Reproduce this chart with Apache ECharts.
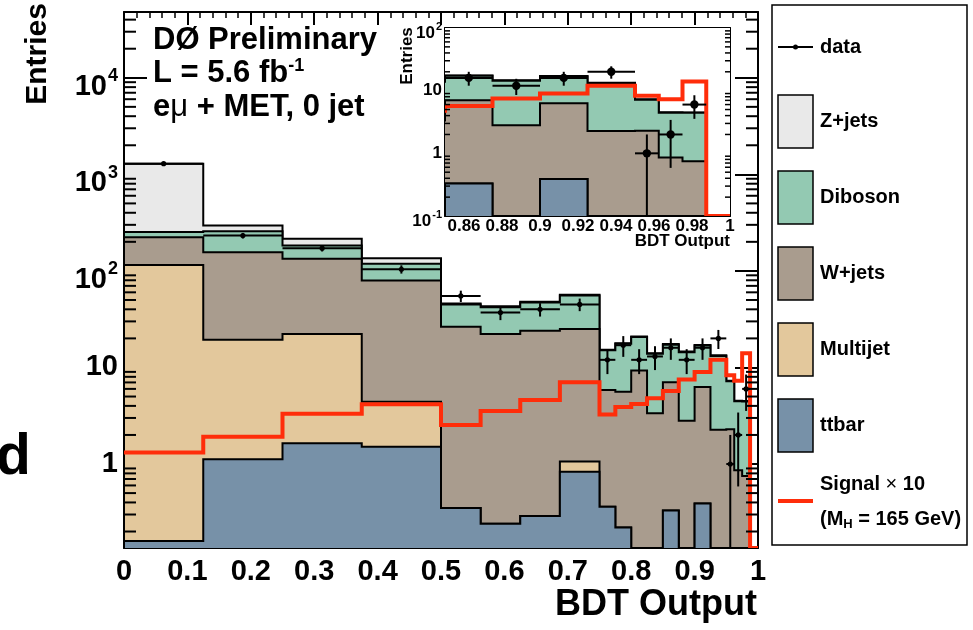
<!DOCTYPE html>
<html>
<head>
<meta charset="utf-8">
<script src="https://cdn.jsdelivr.net/npm/echarts@6/dist/echarts.min.js"></script>
<style>
  html, body { margin: 0; padding: 0; background: #fff; }
  #chart { width: 973px; height: 630px; }
</style>
</head>
<body>
<div id="chart"></div>
<script>
// Variable-width bins of the BDT output
const binEdges = [0, 0.125, 0.25, 0.375, 0.5, 0.5625, 0.625, 0.6875, 0.75,
  0.775, 0.8, 0.825, 0.85, 0.875, 0.9, 0.925, 0.95, 0.9625, 0.975, 0.9875, 1.0];

// Expected events per bin for each background process
const ttbar    = [0.16, 1.12, 1.64, 1.51, 0.35, 0.24, 0.29, 0.83, 0.36, 0.22, 0, 0, 0.33, 0, 0.39, 0, 0, 0, 0, 0];
const multijet = [115, 18.2, 20.6, 2.9, 0, 0, 0, 0.23, 0, 0, 0, 0, 0, 0, 0, 0, 0, 0, 0, 0];
const wjets    = [108, 137, 111, 75, 26, 22, 23.7, 24, 5.5, 5.4, 9.3, 3.35, 6.7, 2.8, 5.9, 2.27, 2.29, 0.86, 0.75, 0];
const diboson  = [29, 101, 50, 39, 18.6, 19.8, 23, 30.5, 9.2, 12, 11.4, 10.5, 10.2, 11.6, 10.6, 10.9, 4.9, 3.6, 3.7, 0];
const zjets    = [1033, 38, 32, 17, 1, 1, 1, 0.9, 0.2, 0.2, 0.2, 0.2, 0.3, 0.2, 0.2, 0.2, 0.1, 0.05, 0.05, 0];

// Higgs signal (M_H = 165 GeV) scaled by 10
const signalX10 = [1.32, 1.92, 3.32, 4.16, 2.54, 3.54, 4.6, 7.03, 3.25, 3.9, 4.19, 4.8, 5.7, 7.5, 9.0, 12.0, 8.3, 7.3, 14.0, 0];

// Observed events per bin
const dataCounts = [1290, 232, 172, 104, 55, 37, 40, 45, 12, 17, 12, 13, 16, 12, 16, 20, 1, 2, 6, 0];

// Tick labels
const mainXTickLabels  = ['0', '0.1', '0.2', '0.3', '0.4', '0.5', '0.6', '0.7', '0.8', '0.9', '1'];
const mainYTickLabels  = ['1', '10', '10^2', '10^3', '10^4'];
const insetXTickLabels = ['0.86', '0.88', '0.9', '0.92', '0.94', '0.96', '0.98', '1'];
const insetYTickLabels = ['10^-1', '1', '10', '10^2'];

const FONT = "'Liberation Sans', Arial, Helvetica, sans-serif";
const COL = {
  zjets: '#e9e9e9', diboson: '#93c9b2', wjets: '#a99c8e',
  multijet: '#e3c89c', ttbar: '#7791a8', signal: '#ff2d0a'
};

// Axis ranges
const MAIN_YMIN = 0.135, MAIN_YMAX = 48000;
const INSET_XMIN = 0.85, INSET_YMIN = 0.1, INSET_YMAX = 100;

// Cumulative stack: ttbar at the bottom, Z+jets on top
function addArrays(a, b) { return a.map((v, i) => v + b[i]); }
const cumTtbar = ttbar.slice();
const cumMultijet = addArrays(cumTtbar, multijet);
const cumWjets = addArrays(cumMultijet, wjets);
const cumDiboson = addArrays(cumWjets, diboson);
const cumZjets = addArrays(cumDiboson, zjets);

// '10^2' -> 100, '0.86' -> 0.86
function labelValue(l) {
  const p = l.split('^');
  return p.length > 1 ? Math.pow(Number(p[0]), Number(p[1])) : Number(l);
}
// '10^2' -> base + raised exponent
function toRich(l) {
  const p = l.split('^');
  return p.length > 1 ? '{b|' + p[0] + '}{s|' + p[1] + '}' : l;
}
function labelLookup(list, asLog) {
  return function (v) {
    for (const l of list) {
      const num = labelValue(l);
      const hit = asLog ? Math.abs(Math.log10(v) - Math.log10(num)) < 1e-6 : Math.abs(v - num) < 1e-6;
      if (hit) return toRich(l);
    }
    return '';
  };
}

// Step histogram (filled + outlined) built from bin edges and values
function histSeries(name, values, fill, xi, yi, yMin, anchor, lw) {
  return {
    type: 'custom', name: name, xAxisIndex: xi, yAxisIndex: yi, clip: true, z: 2,
    silent: true,
    data: [anchor],
    renderItem: function (params, api) {
      const X = e => api.coord([e, yMin])[0];
      const Y = v => api.coord([anchor[0], Math.max(v, yMin)])[1];
      const pts = [[X(binEdges[0]), Y(yMin)]];
      for (let i = 0; i < values.length; i++) {
        pts.push([X(binEdges[i]), Y(values[i])]);
        pts.push([X(binEdges[i + 1]), Y(values[i])]);
      }
      pts.push([X(binEdges[binEdges.length - 1]), Y(yMin)]);
      const children = [];
      if (fill) children.push({ type: 'polygon', shape: { points: pts }, style: { fill: fill, stroke: null } });
      children.push({ type: 'polyline', shape: { points: pts }, style: { fill: null, stroke: '#000', lineWidth: lw } });
      return { type: 'group', children: children };
    }
  };
}

function signalSeries(xi, yi, yMin, anchor, lw) {
  return {
    type: 'custom', name: 'signal', xAxisIndex: xi, yAxisIndex: yi, clip: true, z: 3,
    silent: true,
    data: [anchor],
    renderItem: function (params, api) {
      const X = e => api.coord([e, yMin])[0];
      const Y = v => api.coord([anchor[0], Math.max(v, yMin)])[1];
      const pts = [];
      for (let i = 0; i < signalX10.length; i++) {
        pts.push([X(binEdges[i]), Y(signalX10[i])]);
        pts.push([X(binEdges[i + 1]), Y(signalX10[i])]);
      }
      return { type: 'polyline', shape: { points: pts }, style: { fill: null, stroke: COL.signal, lineWidth: lw, lineJoin: 'miter' } };
    }
  };
}

// Data points with Poisson error bars and bin-width horizontal bars
function dataSeries(xi, yi, yMin, r, lw) {
  const items = [];
  dataCounts.forEach((n, i) => {
    if (n > 0) items.push([(binEdges[i] + binEdges[i + 1]) / 2, n, binEdges[i], binEdges[i + 1]]);
  });
  return {
    type: 'custom', name: 'data', xAxisIndex: xi, yAxisIndex: yi, clip: true, z: 4,
    silent: true,
    data: items,
    renderItem: function (params, api) {
      const xc = api.value(0), n = api.value(1), x0 = api.value(2), x1 = api.value(3);
      const err = Math.sqrt(n);
      const c = api.coord([xc, n]);
      const lo = api.coord([xc, Math.max(n - err, yMin)]);
      const hi = api.coord([xc, n + err]);
      const l = api.coord([x0, n]), rr = api.coord([x1, n]);
      return {
        type: 'group', children: [
          { type: 'line', shape: { x1: lo[0], y1: lo[1], x2: hi[0], y2: hi[1] }, style: { stroke: '#000', lineWidth: lw } },
          { type: 'line', shape: { x1: l[0], y1: l[1], x2: rr[0], y2: rr[1] }, style: { stroke: '#000', lineWidth: lw } },
          { type: 'circle', shape: { cx: c[0], cy: c[1], r: r }, style: { fill: '#000' } }
        ]
      };
    }
  };
}

// Minor ticks of a log axis (2..9 x 10^n) on both frame edges
function logMinorTicks(xi, yi, yMin, yMax, xLeft, xRight, len, lw) {
  const vals = [];
  for (let d = Math.floor(Math.log10(yMin)); d <= Math.ceil(Math.log10(yMax)); d++) {
    for (let k = 2; k <= 9; k++) {
      const v = k * Math.pow(10, d);
      if (v > yMin && v < yMax) vals.push([xLeft, v]);
    }
  }
  return {
    type: 'custom', xAxisIndex: xi, yAxisIndex: yi, clip: false, z: 6, silent: true,
    data: vals,
    renderItem: function (params, api) {
      const a = api.coord([xLeft, api.value(1)]);
      const b = api.coord([xRight, api.value(1)]);
      return {
        type: 'group', children: [
          { type: 'line', shape: { x1: a[0], y1: a[1], x2: a[0] + len, y2: a[1] }, style: { stroke: '#000', lineWidth: lw } },
          { type: 'line', shape: { x1: b[0], y1: b[1], x2: b[0] - len, y2: b[1] }, style: { stroke: '#000', lineWidth: lw } }
        ]
      };
    }
  };
}

const axisLineStyle = { show: true, onZero: false, lineStyle: { color: '#000', width: 2 } };

function xAxisDef(grid, pos, min, max, interval, tickLen, minorLen, minorSplit, labelOpts) {
  return {
    gridIndex: grid, type: 'value', position: pos, min: min, max: max, interval: interval,
    axisLine: axisLineStyle,
    axisTick: { show: true, inside: true, length: tickLen, lineStyle: { color: '#000', width: 2 } },
    minorTick: { show: true, splitNumber: minorSplit, length: minorLen, lineStyle: { color: '#000', width: 1.5 } },
    splitLine: { show: false }, minorSplitLine: { show: false },
    axisLabel: labelOpts || { show: false }
  };
}
function yAxisDef(grid, pos, min, max, tickLen, labelOpts) {
  return {
    gridIndex: grid, type: 'log', logBase: 10, position: pos, min: min, max: max,
    axisLine: axisLineStyle,
    axisTick: { show: true, inside: true, length: tickLen, lineStyle: { color: '#000', width: 2 } },
    splitLine: { show: false },
    axisLabel: labelOpts || { show: false }
  };
}

const mainLabel = {
  show: true, fontFamily: FONT, fontWeight: 'bold', fontSize: 29, color: '#000'
};
const insetLabel = {
  show: true, fontFamily: FONT, fontWeight: 'bold', fontSize: 17, color: '#000'
};

const option = {
  animation: false,
  backgroundColor: '#fff',
  grid: [
    { left: 124, top: 12, width: 634, height: 536, show: false },
    { left: 445, top: 28, width: 285, height: 188, show: true, backgroundColor: '#fff', borderWidth: 0, z: 3 }
  ],
  xAxis: [
    xAxisDef(0, 'bottom', 0, 1, 0.1, 13, 6, 5, Object.assign({}, mainLabel, {
      margin: 9, formatter: labelLookup(mainXTickLabels, false)
    })),
    xAxisDef(0, 'top', 0, 1, 0.1, 13, 6, 5),
    xAxisDef(1, 'bottom', INSET_XMIN, 1, 0.01, 5, 3, 2, Object.assign({}, insetLabel, {
      margin: 2, formatter: labelLookup(insetXTickLabels, false)
    })),
    xAxisDef(1, 'top', INSET_XMIN, 1, 0.01, 5, 3, 2)
  ],
  yAxis: [
    yAxisDef(0, 'left', MAIN_YMIN, MAIN_YMAX, 23, Object.assign({}, mainLabel, {
      margin: 6, formatter: labelLookup(mainYTickLabels, true),
      rich: {
        b: { fontFamily: FONT, fontWeight: 'bold', fontSize: 29, lineHeight: 29, padding: [18, 0, 0, 0] },
        s: { fontFamily: FONT, fontWeight: 'bold', fontSize: 18, lineHeight: 18, verticalAlign: 'top', padding: [4, 0, 0, 1] }
      }
    })),
    yAxisDef(0, 'right', MAIN_YMIN, MAIN_YMAX, 23),
    yAxisDef(1, 'left', INSET_YMIN, INSET_YMAX, 10, Object.assign({}, insetLabel, {
      margin: 3, formatter: labelLookup(insetYTickLabels, true),
      rich: {
        b: { fontFamily: FONT, fontWeight: 'bold', fontSize: 17, lineHeight: 17, padding: [10, 0, 0, 0] },
        s: { fontFamily: FONT, fontWeight: 'bold', fontSize: 11, lineHeight: 11, verticalAlign: 'top', padding: [2, 0, 0, 1] }
      }
    })),
    yAxisDef(1, 'right', INSET_YMIN, INSET_YMAX, 10)
  ],
  series: [
    // main plot
    histSeries('Z+jets', cumZjets, COL.zjets, 0, 0, MAIN_YMIN, [0.5, 1], 2),
    histSeries('Diboson', cumDiboson, COL.diboson, 0, 0, MAIN_YMIN, [0.5, 1], 2),
    histSeries('W+jets', cumWjets, COL.wjets, 0, 0, MAIN_YMIN, [0.5, 1], 2),
    histSeries('Multijet', cumMultijet, COL.multijet, 0, 0, MAIN_YMIN, [0.5, 1], 2),
    histSeries('ttbar', cumTtbar, COL.ttbar, 0, 0, MAIN_YMIN, [0.5, 1], 2),
    signalSeries(0, 0, MAIN_YMIN, [0.5, 1], 4),
    dataSeries(0, 0, MAIN_YMIN, 2.6, 2),
    logMinorTicks(0, 0, MAIN_YMIN, MAIN_YMAX, 0, 1, 12, 2),
    // inset (high BDT region)
    Object.assign(histSeries('Z+jets', cumZjets, COL.zjets, 2, 2, INSET_YMIN, [0.9, 1], 2), { z: 5 }),
    Object.assign(histSeries('Diboson', cumDiboson, COL.diboson, 2, 2, INSET_YMIN, [0.9, 1], 2), { z: 5 }),
    Object.assign(histSeries('W+jets', cumWjets, COL.wjets, 2, 2, INSET_YMIN, [0.9, 1], 2), { z: 5 }),
    Object.assign(histSeries('Multijet', cumMultijet, COL.multijet, 2, 2, INSET_YMIN, [0.9, 1], 2), { z: 5 }),
    Object.assign(histSeries('ttbar', cumTtbar, COL.ttbar, 2, 2, INSET_YMIN, [0.9, 1], 2), { z: 5 }),
    Object.assign(signalSeries(2, 2, INSET_YMIN, [0.9, 1], 4), { z: 6 }),
    Object.assign(dataSeries(2, 2, INSET_YMIN, 4.2, 2), { z: 7 }),
    Object.assign(logMinorTicks(2, 2, INSET_YMIN, INSET_YMAX, INSET_XMIN, 1, 5, 1.5), { z: 8 })
  ],
  graphic: [
    // axis titles
    { type: 'text', x: 38, y: 54, rotation: Math.PI / 2, style: { text: 'Entries', font: 'bold 30px ' + FONT, fill: '#000', align: 'center', verticalAlign: 'middle' } },
    { type: 'text', x: 757, y: 605, style: { text: 'BDT Output', font: 'bold 36px ' + FONT, fill: '#000', align: 'right', verticalAlign: 'middle' } },
    { type: 'text', x: 407, y: 56, rotation: Math.PI / 2, z: 10, style: { text: 'Entries', font: 'bold 17px ' + FONT, fill: '#000', align: 'center', verticalAlign: 'middle' } },
    { type: 'text', x: 730, y: 241, z: 10, style: { text: 'BDT Output', font: 'bold 17px ' + FONT, fill: '#000', align: 'right', verticalAlign: 'middle' } },
    // annotation
    { type: 'text', x: 153, y: 40, z: 10, style: { text: 'DØ Preliminary', font: 'bold 31px ' + FONT, fill: '#000', verticalAlign: 'middle' } },
    { type: 'text', x: 153, y: 73, z: 10, style: {
      text: 'L = 5.6 fb{s|-1}', font: 'bold 31px ' + FONT, fill: '#000', verticalAlign: 'middle',
      rich: { s: { font: 'bold 18px ' + FONT, fill: '#000', verticalAlign: 'top', padding: [0, 0, 14, 0] } }
    } },
    { type: 'text', x: 153, y: 107, z: 10, style: {
      text: 'e{m|μ} + MET, 0 jet', font: 'bold 31px ' + FONT, fill: '#000', verticalAlign: 'middle',
      rich: { m: { font: '31px ' + FONT, fill: '#000' } }
    } },
    // fragment of the neighbouring panel
    { type: 'text', x: -4, y: 458, style: { text: 'd', font: 'bold 57px ' + FONT, fill: '#000', verticalAlign: 'middle' } },
    // legend
    { type: 'rect', shape: { x: 772, y: 5, width: 195, height: 540 }, style: { fill: '#fff', stroke: '#000', lineWidth: 1.5 } },
    { type: 'line', shape: { x1: 778, y1: 47, x2: 813, y2: 47 }, style: { stroke: '#000', lineWidth: 2 } },
    { type: 'circle', shape: { cx: 795.5, cy: 47, r: 2.5 }, style: { fill: '#000' } },
    { type: 'text', x: 820, y: 47, style: { text: 'data', font: 'bold 20px ' + FONT, fill: '#000', verticalAlign: 'middle' } },
    { type: 'rect', shape: { x: 778, y: 95, width: 35, height: 53 }, style: { fill: COL.zjets, stroke: '#000', lineWidth: 1.5 } },
    { type: 'text', x: 820, y: 121.5, style: { text: 'Z+jets', font: 'bold 20px ' + FONT, fill: '#000', verticalAlign: 'middle' } },
    { type: 'rect', shape: { x: 778, y: 171, width: 35, height: 53 }, style: { fill: COL.diboson, stroke: '#000', lineWidth: 1.5 } },
    { type: 'text', x: 820, y: 197.5, style: { text: 'Diboson', font: 'bold 20px ' + FONT, fill: '#000', verticalAlign: 'middle' } },
    { type: 'rect', shape: { x: 778, y: 247, width: 35, height: 53 }, style: { fill: COL.wjets, stroke: '#000', lineWidth: 1.5 } },
    { type: 'text', x: 820, y: 273.5, style: { text: 'W+jets', font: 'bold 20px ' + FONT, fill: '#000', verticalAlign: 'middle' } },
    { type: 'rect', shape: { x: 778, y: 323, width: 35, height: 53 }, style: { fill: COL.multijet, stroke: '#000', lineWidth: 1.5 } },
    { type: 'text', x: 820, y: 349.5, style: { text: 'Multijet', font: 'bold 20px ' + FONT, fill: '#000', verticalAlign: 'middle' } },
    { type: 'rect', shape: { x: 778, y: 399, width: 35, height: 53 }, style: { fill: COL.ttbar, stroke: '#000', lineWidth: 1.5 } },
    { type: 'text', x: 820, y: 425.5, style: { text: 'ttbar', font: 'bold 20px ' + FONT, fill: '#000', verticalAlign: 'middle' } },
    { type: 'line', shape: { x1: 778, y1: 501, x2: 813, y2: 501 }, style: { stroke: COL.signal, lineWidth: 4 } },
    { type: 'text', x: 820, y: 484, style: {
      text: 'Signal {x|×} 10', font: 'bold 20px ' + FONT, fill: '#000', verticalAlign: 'middle',
      rich: { x: { font: '20px ' + FONT, fill: '#000' } }
    } },
    { type: 'text', x: 820, y: 519, style: {
      text: '(M{h|H} = 165 GeV)', font: 'bold 20px ' + FONT, fill: '#000', verticalAlign: 'middle',
      rich: { h: { font: 'bold 13px ' + FONT, fill: '#000', verticalAlign: 'bottom', padding: [10, 0, 0, 0] } }
    } }
  ]
};

const chart = echarts.init(document.getElementById('chart'), null, { renderer: 'canvas' });
chart.setOption(option);
</script>
</body>
</html>
